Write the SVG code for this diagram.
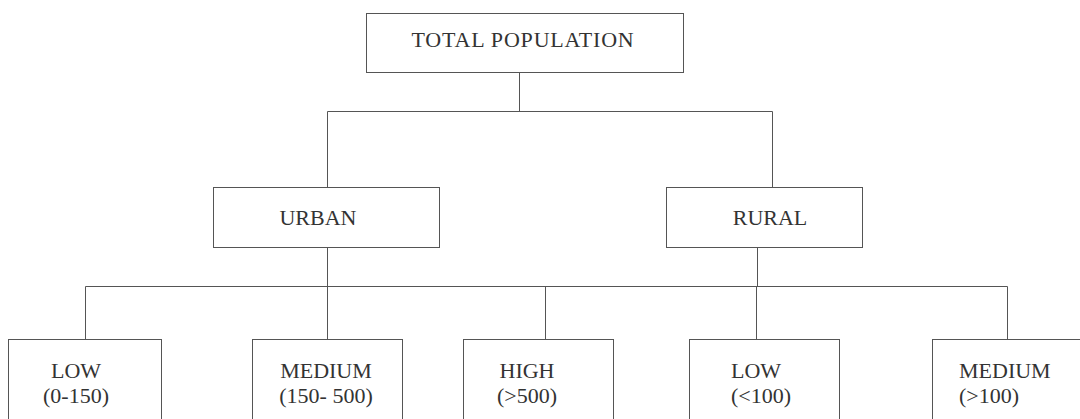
<svg xmlns="http://www.w3.org/2000/svg" width="1080" height="419" viewBox="0 0 1080 419">
<style>
.box{fill:#fff;stroke:#555;stroke-width:1}
.ln{fill:none;stroke:#555;stroke-width:1}
text{font-family:"Liberation Serif","DejaVu Serif",serif;font-size:22px;fill:#333}
.c{text-anchor:middle}
</style>
<rect width="1080" height="419" fill="#fff"/>
<g id="connectors">
<path class="ln" d="M519.5 72 V111.5 M327.5 111.5 H772.5 M327.5 111.5 V187 M772.5 111.5 V187 M327.5 247 V286.5 M757.5 247 V286.5 M85.5 286.5 H1007.5 M85.5 286.5 V339 M327.5 286.5 V339 M545.5 286.5 V339 M756.5 286.5 V339 M1007.5 286.5 V339"/>
</g>
<g id="total">
<rect class="box" x="366.5" y="13.5" width="317" height="59"/>
<text class="c" x="523" y="47" letter-spacing="0.8">TOTAL POPULATION</text>
</g>
<g id="urban">
<rect class="box" x="213.5" y="187.5" width="226" height="60"/>
<text class="c" x="318" y="225">URBAN</text>
</g>
<g id="rural">
<rect class="box" x="666.5" y="187.5" width="196" height="60"/>
<text class="c" x="770" y="225">RURAL</text>
</g>
<g id="urban-low">
<rect class="box" x="8.5" y="339.5" width="153" height="90"/>
<text class="c" x="76" y="378">LOW</text>
<text class="c" x="76" y="403">(0-150)</text>
</g>
<g id="urban-medium">
<rect class="box" x="252.5" y="339.5" width="150" height="90"/>
<text class="c" x="326" y="378">MEDIUM</text>
<text class="c" x="326" y="403">(150- 500)</text>
</g>
<g id="urban-high">
<rect class="box" x="463.5" y="339.5" width="150" height="90"/>
<text class="c" x="527" y="378">HIGH</text>
<text class="c" x="527" y="403">(&gt;500)</text>
</g>
<g id="rural-low">
<rect class="box" x="689.5" y="339.5" width="150" height="90"/>
<text x="731" y="378">LOW</text>
<text x="731" y="403">(&lt;100)</text>
</g>
<g id="rural-medium">
<rect class="box" x="932.5" y="339.5" width="160" height="90"/>
<text x="959" y="378">MEDIUM</text>
<text x="959" y="403">(&gt;100)</text>
</g>
</svg>
